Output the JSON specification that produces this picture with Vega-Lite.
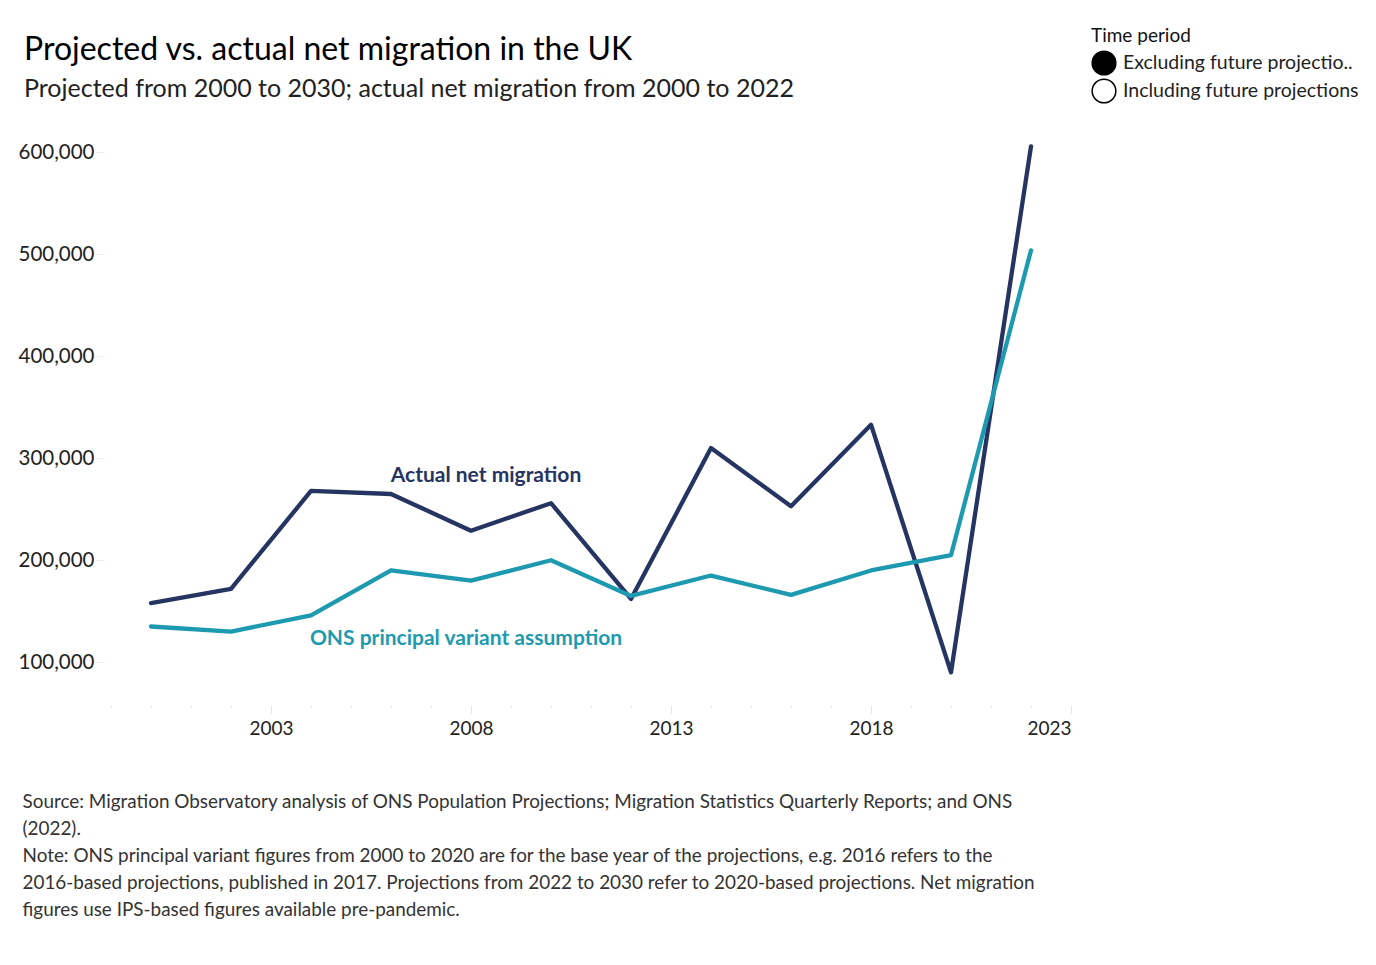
{
  "$schema": "https://vega.github.io/schema/vega-lite/v6.json",
  "autosize": "none",
  "width": 960,
  "height": 578,
  "padding": {"left": 111, "top": 127, "right": 305, "bottom": 260},
  "background": "white",
  "config": {
    "view": {"stroke": null},
    "font": "Lato",
    "axis": {"labelOverlap": false}
  },
  "title": {
    "text": "Projected vs. actual net migration in the UK",
    "subtitle": "Projected from 2000 to 2030; actual net migration from 2000 to 2022",
    "anchor": "start",
    "frame": "group",
    "dx": -87,
    "offset": -76,
    "font": "Lato",
    "fontSize": 32,
    "fontWeight": "normal",
    "color": "#000000",
    "subtitleFont": "Lato",
    "subtitleFontSize": 25,
    "subtitleColor": "#222222",
    "subtitlePadding": 10
  },
  "datasets": {
    "migration": [
      {"year": 2000, "series": "Actual net migration", "value": 158000},
      {"year": 2002, "series": "Actual net migration", "value": 172000},
      {"year": 2004, "series": "Actual net migration", "value": 268000},
      {"year": 2006, "series": "Actual net migration", "value": 265000},
      {"year": 2008, "series": "Actual net migration", "value": 229000},
      {"year": 2010, "series": "Actual net migration", "value": 256000},
      {"year": 2012, "series": "Actual net migration", "value": 162000},
      {"year": 2014, "series": "Actual net migration", "value": 310000},
      {"year": 2016, "series": "Actual net migration", "value": 253000},
      {"year": 2018, "series": "Actual net migration", "value": 333000},
      {"year": 2020, "series": "Actual net migration", "value": 90000},
      {"year": 2022, "series": "Actual net migration", "value": 606000},
      {"year": 2000, "series": "ONS principal variant assumption", "value": 135000},
      {"year": 2002, "series": "ONS principal variant assumption", "value": 130000},
      {"year": 2004, "series": "ONS principal variant assumption", "value": 146000},
      {"year": 2006, "series": "ONS principal variant assumption", "value": 190000},
      {"year": 2008, "series": "ONS principal variant assumption", "value": 180000},
      {"year": 2010, "series": "ONS principal variant assumption", "value": 200000},
      {"year": 2012, "series": "ONS principal variant assumption", "value": 165000},
      {"year": 2014, "series": "ONS principal variant assumption", "value": 185000},
      {"year": 2016, "series": "ONS principal variant assumption", "value": 166000},
      {"year": 2018, "series": "ONS principal variant assumption", "value": 190000},
      {"year": 2020, "series": "ONS principal variant assumption", "value": 205000},
      {"year": 2022, "series": "ONS principal variant assumption", "value": 504000}
    ],
    "period": [
      {"period": "Excluding future projectio.."},
      {"period": "Including future projections"}
    ]
  },
  "layer": [
    {
      "data": {"name": "migration"},
      "mark": {"type": "line", "strokeWidth": 4.3, "strokeCap": "round", "strokeJoin": "round"},
      "encoding": {
        "x": {
          "field": "year",
          "type": "quantitative",
          "scale": {"domain": [1999, 2023], "nice": false, "zero": false},
          "axis": {
            "values": [1999, 2000, 2001, 2002, 2003, 2004, 2005, 2006, 2007, 2008, 2009, 2010, 2011, 2012, 2013, 2014, 2015, 2016, 2017, 2018, 2019, 2020, 2021, 2022, 2023],
            "tickCount": 100,
            "format": "d",
            "labelExpr": "datum.value % 5 == 3 ? datum.label : ''",
            "labelOverlap": false,
            "labelBound": false,
            "labelFlush": true,
            "labelFont": "Lato",
            "labelFontSize": 19,
            "labelColor": "#222222",
            "labelPadding": 6,
            "domain": false,
            "grid": false,
            "tickColor": "#e6e6e6",
            "tickSize": {"condition": {"test": "datum.value % 5 == 3", "value": 8}, "value": 3},
            "title": [
              "Source: Migration Observatory analysis of ONS Population Projections; Migration Statistics Quarterly Reports; and ONS",
              "(2022).",
              "Note: ONS principal variant figures from 2000 to 2020 are for the base year of the projections, e.g. 2016 refers to the",
              "2016-based projections, published in 2017. Projections from 2022 to 2030 refer to 2020-based projections. Net migration",
              "figures use IPS-based figures available pre-pandemic."
            ],
            "titleFont": "Lato",
            "titleFontSize": 18.9,
            "titleFontWeight": "normal",
            "titleColor": "#333333",
            "titleAlign": "left",
            "titleBaseline": "middle",
            "titleLineHeight": 27,
            "titleX": -89,
            "titleY": 96
          }
        },
        "y": {
          "field": "value",
          "type": "quantitative",
          "scale": {"domain": [58000, 625000], "nice": false, "zero": false},
          "axis": {
            "values": [100000, 200000, 300000, 400000, 500000, 600000],
            "format": ",d",
            "labelFont": "Lato",
            "labelFontSize": 20.5,
            "labelColor": "#222222",
            "labelPadding": 2,
            "domain": false,
            "grid": false,
            "offset": 7,
            "tickColor": "#ececec",
            "tickSize": 8,
            "title": null
          }
        },
        "color": {
          "field": "series",
          "type": "nominal",
          "scale": {"domain": ["Actual net migration", "ONS principal variant assumption"], "range": ["#263462", "#1e9ab0"]},
          "legend": null
        }
      }
    },
    {
      "data": {"values": [{}]},
      "mark": {"type": "text", "text": "Actual net migration", "font": "Lato", "fontSize": 21, "fontWeight": "bold", "color": "#263462", "align": "center", "baseline": "middle"},
      "encoding": {
        "x": {"datum": 2008.375, "type": "quantitative"},
        "y": {"datum": 282500, "type": "quantitative"}
      }
    },
    {
      "data": {"values": [{}]},
      "mark": {"type": "text", "text": "ONS principal variant assumption", "font": "Lato", "fontSize": 21, "fontWeight": "bold", "color": "#1e9ab0", "align": "center", "baseline": "middle"},
      "encoding": {
        "x": {"datum": 2007.875, "type": "quantitative"},
        "y": {"datum": 123000, "type": "quantitative"}
      }
    },
    {
      "data": {"name": "period"},
      "mark": {"type": "point", "filled": true, "opacity": 0},
      "encoding": {
        "fill": {
          "field": "period",
          "type": "nominal",
          "scale": {"domain": ["Excluding future projectio..", "Including future projections"], "range": ["#000000", "#ffffff"]},
          "legend": {
            "title": "Time period",
            "orient": "none",
            "legendX": 980,
            "legendY": -100,
            "titleFont": "Lato",
            "titleFontSize": 19,
            "titleFontWeight": "normal",
            "titleColor": "#111111",
            "titlePadding": 4,
            "labelFont": "Lato",
            "labelFontSize": 19.5,
            "labelColor": "#222222",
            "labelOffset": 6,
            "symbolType": "circle",
            "symbolSize": 560,
            "symbolStrokeColor": "#000000",
            "symbolStrokeWidth": 1.5,
            "symbolOpacity": 1,
            "rowPadding": -3,
            "labelLimit": 300
          }
        }
      }
    }
  ]
}
